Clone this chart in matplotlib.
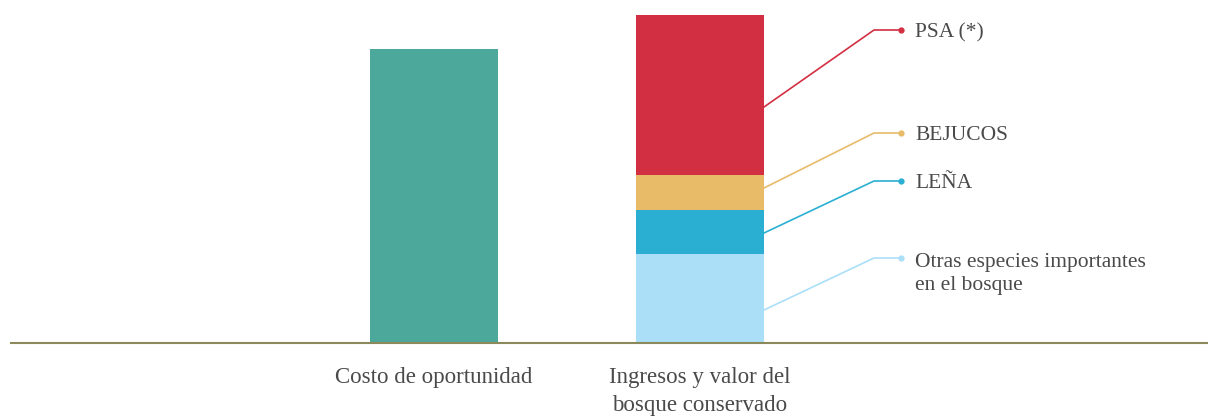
import matplotlib.pyplot as plt
import numpy as np

# data (units, arbitrary scale)
categories = ["Costo de oportunidad", "Ingresos y valor del\nbosque conservado"]
costo = 294
stack_labels = ["Otras especies importantes\nen el bosque", "LEÑA", "BEJUCOS", "PSA (*)"]
stack_values = [89, 44, 35, 160]
stack_colors = ["#abdff8", "#2aafd3", "#e8bb68", "#d22f42"]
label_y = [85, 162, 210, 313]          # where each callout label sits
leader_y = [33, 110, 155, 236]          # where each leader leaves the bar

plt.rcParams['font.family'] = ['Liberation Serif', 'DejaVu Serif']
TEXT = "#4a4a4a"

fig = plt.figure(figsize=(12.08, 4.16), dpi=100)
ax = fig.add_axes([0, 73 / 416, 1, 343 / 416])
ax.set_xlim(-434 / 266, (1208 - 434) / 266)
ax.set_ylim(0, 343)
ax.axis("off")

w = 128 / 266
ax.bar(0, costo, width=w, color="#4ba89a")
bottom = 0
for v, c in zip(stack_values, stack_colors):
    ax.bar(1, v, width=w, bottom=bottom, color=c)
    bottom += v

ax.axhline(0, xmin=11 / 1208, xmax=1, color="#8c8a5c", lw=1.5, clip_on=False)

x0 = 1 + w / 2
x_elbow = (874 - 434) / 266
x_dot = (901 - 434) / 266
x_txt = (915 - 434) / 266
for lab, c, ly, sy in zip(stack_labels, stack_colors, label_y, leader_y):
    ax.plot([x0, x_elbow, x_dot], [sy, ly, ly], color=c, lw=1.2)
    ax.plot(x_dot, ly, "o", color=c, ms=3.5)
    if "\n" in lab:
        ax.text(x_txt, ly + 5, lab, color=TEXT, fontsize=15.5, va="top", ha="left",
                linespacing=1.3)
    else:
        ax.text(x_txt, ly - 3, lab, color=TEXT, fontsize=15.5, va="center", ha="left")

for i, cat in enumerate(categories):
    ax.text(i, -24, cat, color=TEXT, fontsize=16.5, ha="center", va="top", linespacing=1.45)

fig.savefig("out.png", dpi=100)
